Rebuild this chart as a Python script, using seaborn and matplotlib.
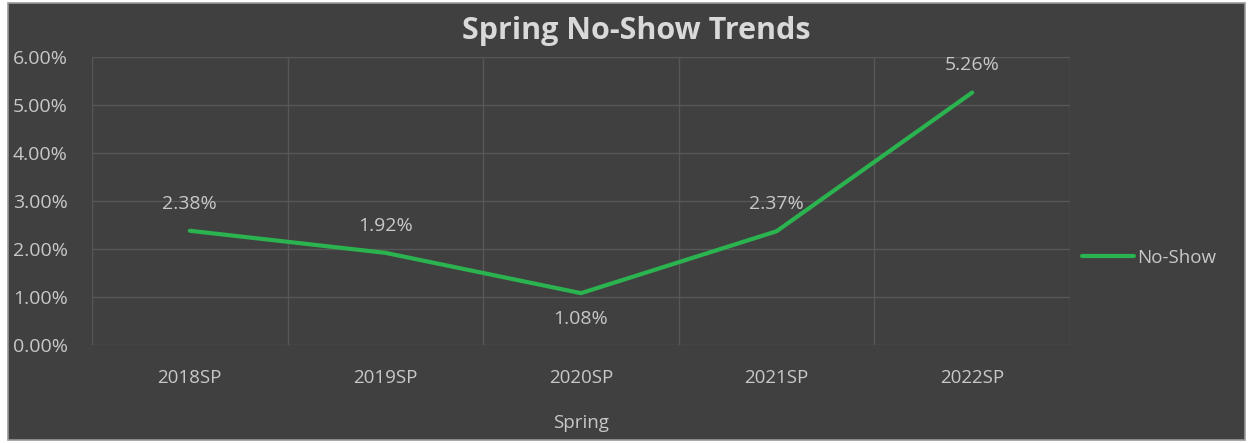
import matplotlib
matplotlib.use("Agg")
import matplotlib.pyplot as plt
import seaborn as sns
import pandas as pd
from matplotlib.ticker import FuncFormatter, FixedLocator
from matplotlib.lines import Line2D
from matplotlib.patches import Rectangle

categories = ["2018SP", "2019SP", "2020SP", "2021SP", "2022SP"]
no_show = [2.38, 1.92, 1.08, 2.37, 5.26]
y_ticks = [0, 1, 2, 3, 4, 5, 6]

BG = "#404040"
TXT = "#c8c8c8"
GRID = "#575757"
GREEN = "#2bb34f"

sns.set_theme(style="dark")
plt.rcParams['font.family'] = ['Open Sans', 'DejaVu Sans']

df = pd.DataFrame({"Term": categories, "No-Show": no_show, "x": range(len(categories))})

fig = plt.figure(figsize=(12.51, 4.43), dpi=100)
fig.patch.set_facecolor("white")
fig.patches.append(Rectangle((8 / 1251, 3 / 443), 1237 / 1251, 437 / 443, transform=fig.transFigure,
                             facecolor=BG, edgecolor="#9a9a9a", linewidth=1.2, zorder=-1))

ax = fig.add_axes([92 / 1251, 1 - 345 / 443, (1070 - 92) / 1251, (345 - 57) / 443])
ax.set_facecolor(BG)

sns.lineplot(data=df, x="x", y="No-Show", ax=ax, color=GREEN, linewidth=3, sort=False, label="No-Show")

ax.set_xlim(-0.5, len(categories) - 0.5)
ax.set_ylim(0, 6)
ax.set_xticks(range(len(categories)))
ax.set_xticklabels(categories)
ax.xaxis.set_minor_locator(FixedLocator([i - 0.5 for i in range(len(categories) + 1)]))
ax.set_yticks(y_ticks)
ax.yaxis.set_major_formatter(FuncFormatter(lambda v, p: f"{v:.2f}%"))

ax.grid(False)
ax.grid(True, which="major", axis="y", color=GRID, linewidth=1)
ax.grid(True, which="minor", axis="x", color=GRID, linewidth=1)
ax.tick_params(axis="both", which="both", length=0, colors=TXT, labelsize=13.5)
ax.tick_params(axis="x", pad=17)
for lab in ax.get_yticklabels():
    lab.set_horizontalalignment("left")
    lab.set_fontsize(14)
ax.yaxis.set_tick_params(pad=57)
for s in ax.spines.values():
    s.set_visible(False)

ax.set_xlabel("Spring", color=TXT, fontsize=13.5, labelpad=20)
ax.set_ylabel("")

for i, v in enumerate(no_show):
    if i == 2:
        ax.annotate(f"{v:.2f}%", (i, v), xytext=(0, -12), textcoords="offset points",
                    ha="center", va="top", color=TXT, fontsize=14)
    else:
        ax.annotate(f"{v:.2f}%", (i, v), xytext=(0, 13), textcoords="offset points",
                    ha="center", va="bottom", color=TXT, fontsize=14)

fig.text(636 / 1251, 1 - 31 / 443, "Spring No-Show Trends", ha="center", va="center",
         color="#d9d9d9", fontsize=22, fontweight="bold")

ax.legend(handles=[Line2D([], [], color=GREEN, linewidth=3)], labels=["No-Show"],
          loc="center left", bbox_to_anchor=(0.995, 1 - (258 - 57) / 288), frameon=False,
          labelcolor=TXT, fontsize=13.5, handlelength=2.8, handletextpad=0.15)

fig.savefig("out.png", dpi=100, facecolor=fig.get_facecolor())
